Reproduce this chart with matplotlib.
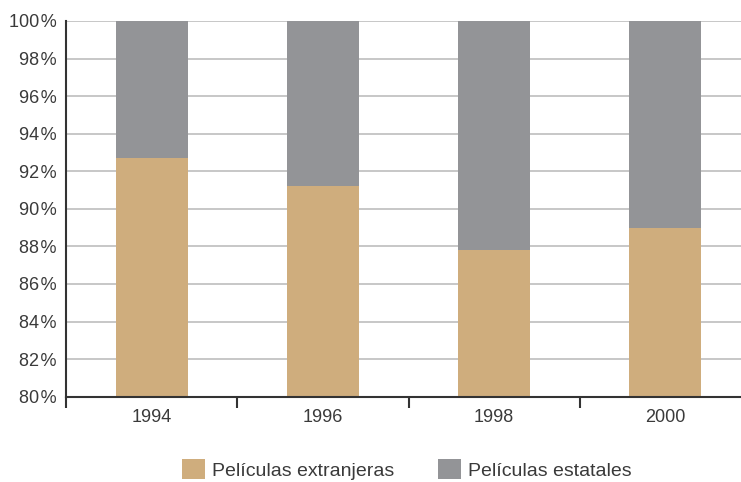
import matplotlib.pyplot as plt
import numpy as np
from matplotlib.ticker import FixedLocator, FuncFormatter
from matplotlib.patches import Patch

years = ['1994', '1996', '1998', '2000']
extranjeras = [92.7, 91.2, 87.8, 89.0]
estatales = [100 - v for v in extranjeras]

tan = '#cfad7d'
grey = '#939497'
txt = '#3a3a3a'

plt.rcParams['font.family'] = ['Liberation Sans', 'DejaVu Sans']

fig = plt.figure(figsize=(7.41, 4.82), dpi=100)
ax = fig.add_axes([0.0891, 0.177, 0.9245, 0.7795])

x = np.arange(len(years))
ax.bar(x, extranjeras, width=0.42, color=tan, zorder=3)
ax.bar(x, estatales, width=0.42, bottom=extranjeras, color=grey, zorder=3)

ax.set_xlim(-0.5, 3.5)
ax.set_ylim(80, 100)
ax.set_yticks(np.arange(80, 101, 2))
ax.yaxis.set_major_formatter(FuncFormatter(lambda v, p: f'{v:.0f}\u200a%'))
ax.tick_params(axis='y', length=0, pad=7, labelcolor=txt, labelsize=13)

ax.set_xticks(x)
ax.set_xticklabels(years)
ax.tick_params(axis='x', which='major', length=0, pad=9, labelcolor=txt, labelsize=13)
ax.xaxis.set_minor_locator(FixedLocator([-0.5, 0.5, 1.5, 2.5]))
ax.tick_params(axis='x', which='minor', length=8, width=1.5, color='#333333', direction='out')

ax.grid(axis='y', color='#c3c3c3', linewidth=1.3, zorder=0)
ax.set_axisbelow(True)
for s in ['top', 'right']:
    ax.spines[s].set_visible(False)
for s in ['left', 'bottom']:
    ax.spines[s].set_color('#333333')
    ax.spines[s].set_linewidth(1.5)
    ax.spines[s].set_zorder(4)

handles = [Patch(facecolor=tan, label='Películas extranjeras'),
           Patch(facecolor=grey, label='Películas estatales')]
leg = fig.legend(handles=handles, loc='center', bbox_to_anchor=(0.549, 0.026),
                 ncol=2, frameon=False, fontsize=14, handlelength=1.2, handleheight=1.2,
                 handletextpad=0.36, columnspacing=2.2, borderpad=0)
for t in leg.get_texts():
    t.set_color(txt)

fig.savefig('out.png', dpi=100)
